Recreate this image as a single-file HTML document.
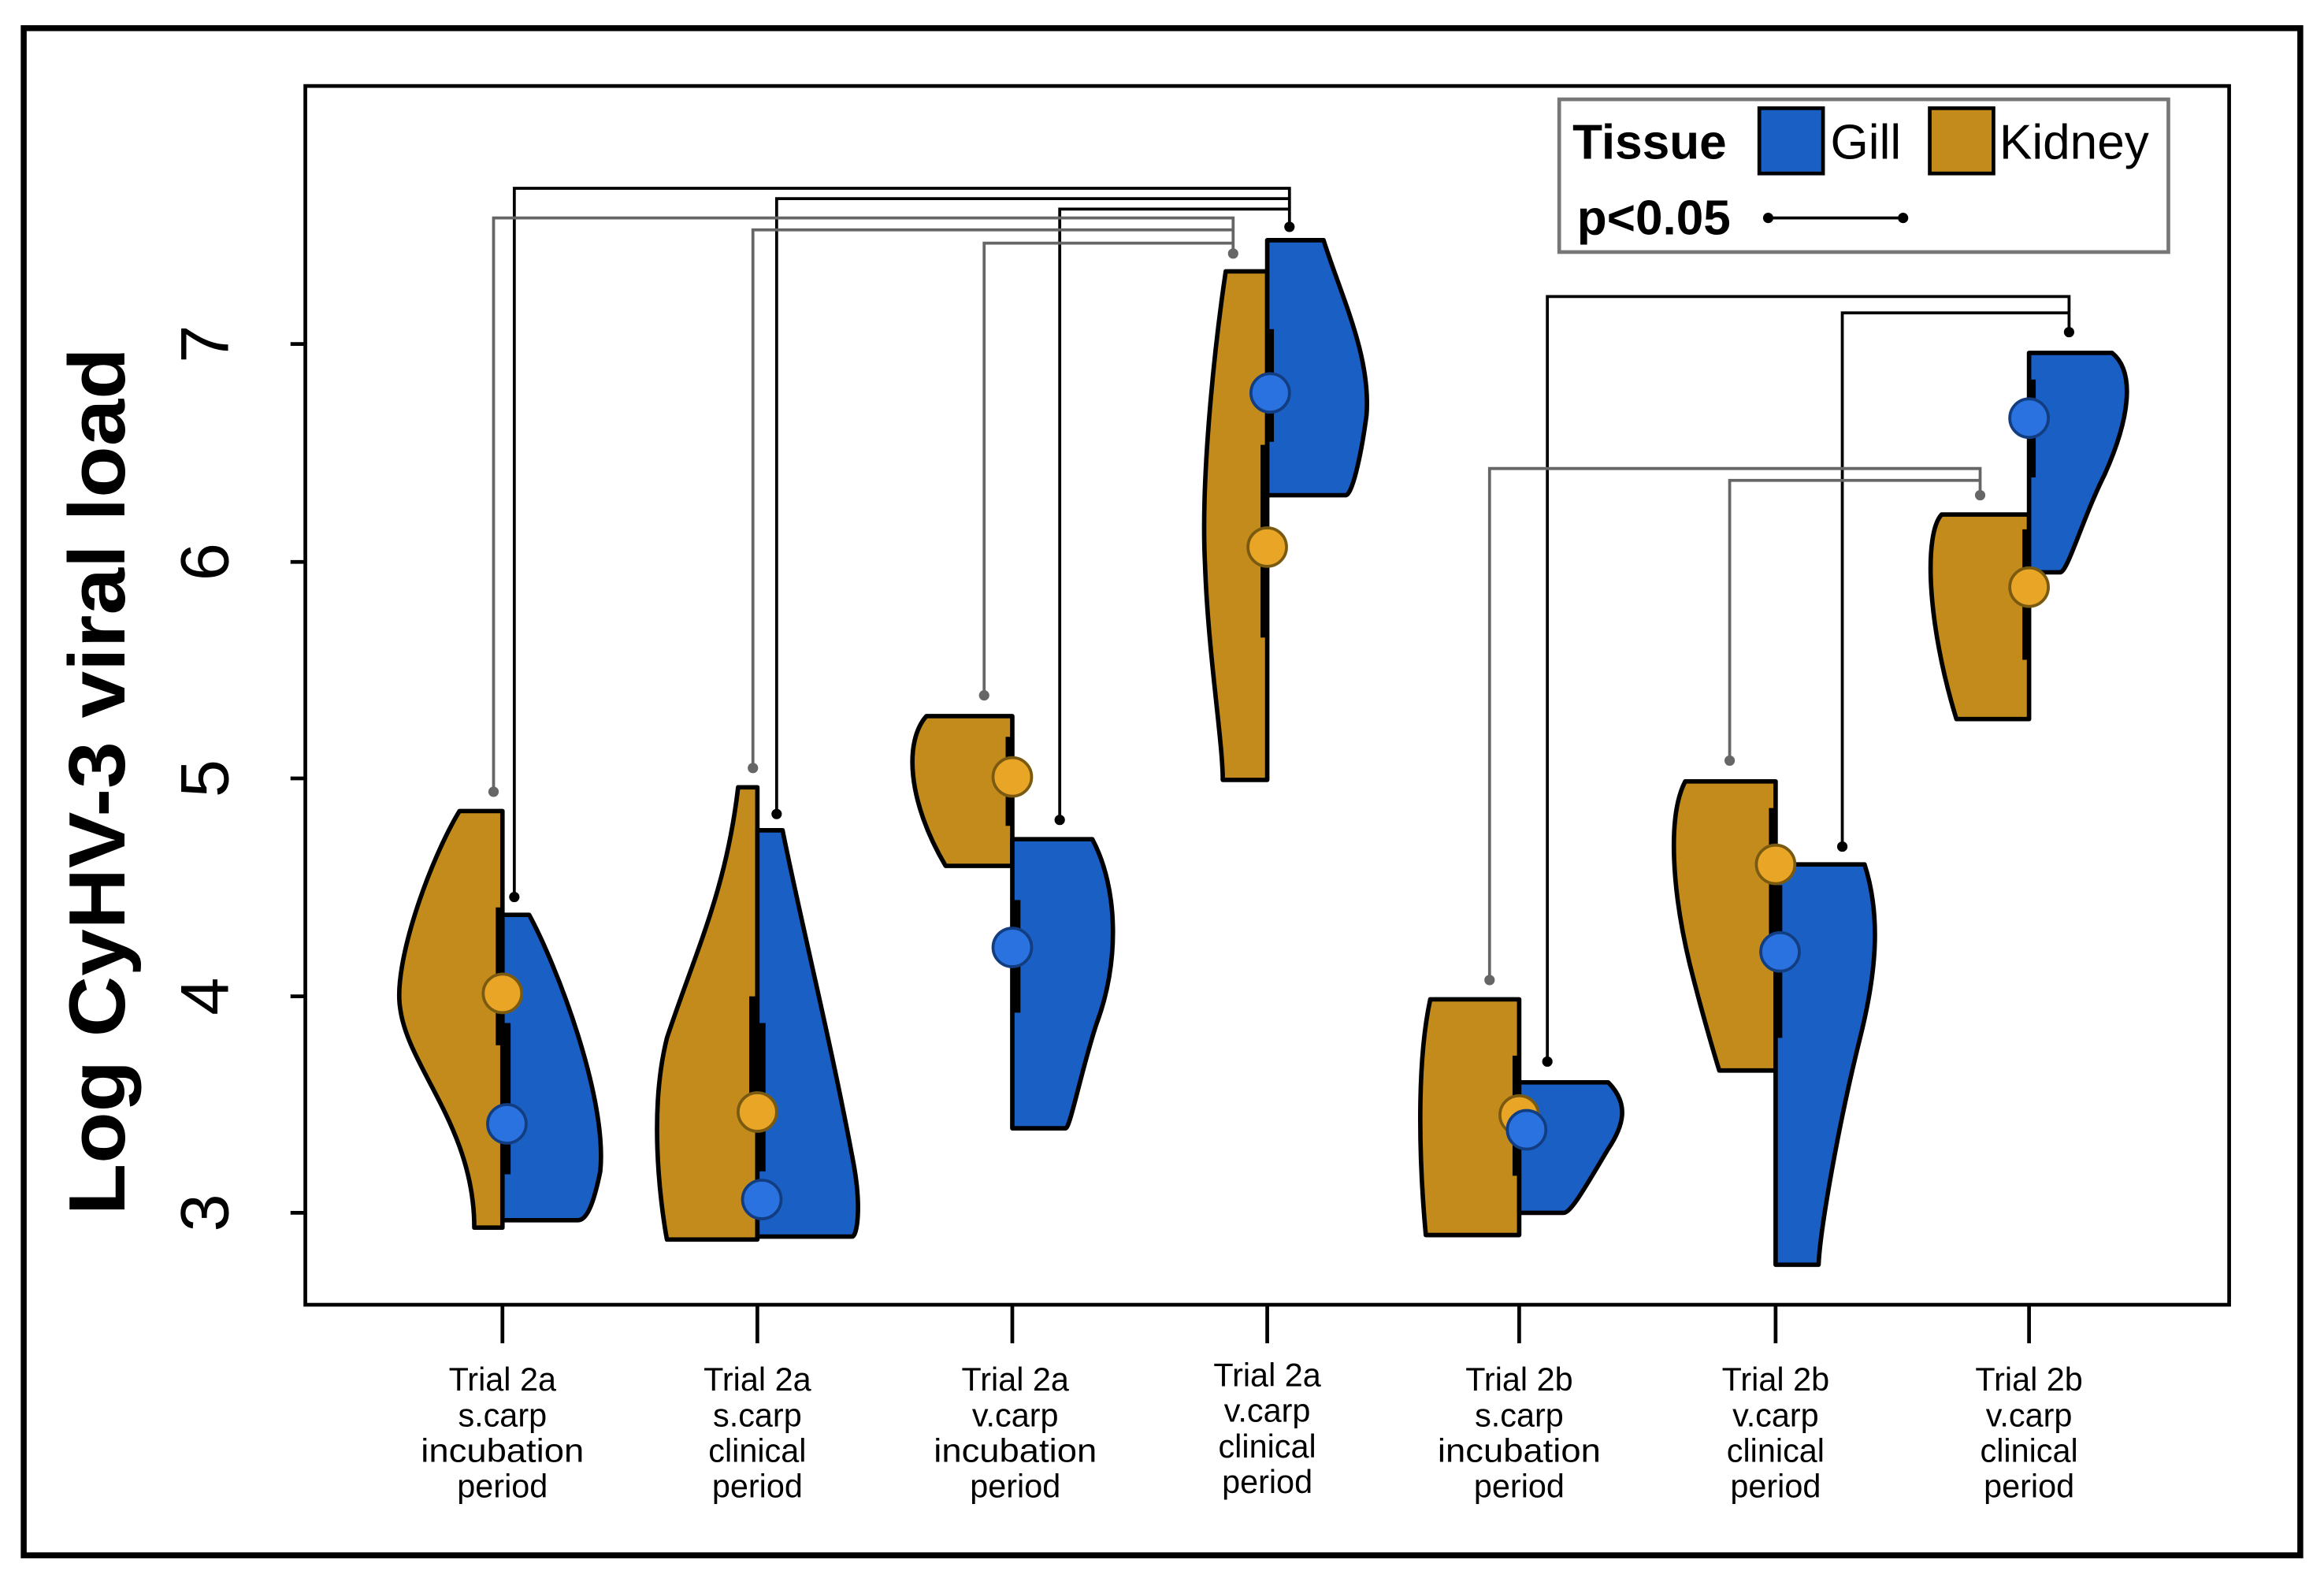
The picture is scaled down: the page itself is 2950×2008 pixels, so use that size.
<!DOCTYPE html>
<html><head><meta charset="utf-8"><style>html,body{margin:0;padding:0;background:#fff}svg{display:block}</style></head><body>
<svg width="2950" height="2008" viewBox="0 0 1568 1067" preserveAspectRatio="none" xmlns="http://www.w3.org/2000/svg" font-family="Liberation Sans, sans-serif">
<rect x="0" y="0" width="1568" height="1067" fill="#fff"/>
<rect x="16" y="19" width="1536" height="1030" fill="none" stroke="#000" stroke-width="4"/>
<rect x="206" y="58" width="1298" height="822" fill="none" stroke="#000" stroke-width="2.5"/>
<g stroke="#000" stroke-width="2.5">
<line x1="196" y1="818" x2="206" y2="818"/><line x1="196" y1="672" x2="206" y2="672"/><line x1="196" y1="525" x2="206" y2="525"/><line x1="196" y1="379" x2="206" y2="379"/><line x1="196" y1="232" x2="206" y2="232"/>
</g>
<g font-size="46" text-anchor="middle">
<text transform="translate(154,818) rotate(-90)">3</text>
<text transform="translate(154,672) rotate(-90)">4</text>
<text transform="translate(154,525) rotate(-90)">5</text>
<text transform="translate(154,379) rotate(-90)">6</text>
<text transform="translate(154,232) rotate(-90)">7</text>
</g>
<text transform="translate(84,527) rotate(-90)" font-size="54" font-weight="bold" text-anchor="middle" textLength="585" lengthAdjust="spacingAndGlyphs">Log CyHV-3 viral load</text>
<g stroke="#000" stroke-width="2.5">
<line x1="339" y1="880" x2="339" y2="906"/><line x1="511" y1="880" x2="511" y2="906"/><line x1="683" y1="880" x2="683" y2="906"/><line x1="855" y1="880" x2="855" y2="906"/><line x1="1025" y1="880" x2="1025" y2="906"/><line x1="1198" y1="880" x2="1198" y2="906"/><line x1="1369" y1="880" x2="1369" y2="906"/>
</g>
<g font-size="22" text-anchor="middle">
<text x="339" y="938">Trial 2a</text><text x="339" y="962">s.carp</text><text x="339" y="986" textLength="110" lengthAdjust="spacingAndGlyphs">incubation</text><text x="339" y="1010">period</text>
<text x="511" y="938">Trial 2a</text><text x="511" y="962">s.carp</text><text x="511" y="986">clinical</text><text x="511" y="1010">period</text>
<text x="685" y="938">Trial 2a</text><text x="685" y="962">v.carp</text><text x="685" y="986" textLength="110" lengthAdjust="spacingAndGlyphs">incubation</text><text x="685" y="1010">period</text>
<text x="855" y="935">Trial 2a</text><text x="855" y="959">v.carp</text><text x="855" y="983">clinical</text><text x="855" y="1007">period</text>
<text x="1025" y="938">Trial 2b</text><text x="1025" y="962">s.carp</text><text x="1025" y="986" textLength="110" lengthAdjust="spacingAndGlyphs">incubation</text><text x="1025" y="1010">period</text>
<text x="1198" y="938">Trial 2b</text><text x="1198" y="962">v.carp</text><text x="1198" y="986">clinical</text><text x="1198" y="1010">period</text>
<text x="1369" y="938">Trial 2b</text><text x="1369" y="962">v.carp</text><text x="1369" y="986">clinical</text><text x="1369" y="1010">period</text>
</g>
<g stroke="#000" stroke-width="3" stroke-linejoin="round">
<g fill="#C38B1C">
<path d="M339,547 L310,547 C290,580 265,650 270,680 C275,720 320,760 320,828 L339,828 Z"/>
<path d="M511,531 L498,531 C490,600 470,640 450,700 C435,760 450,836 450,836 L511,836 Z"/>
<path d="M683,483 L625,483 C610,500 612,540 638,584 L683,584Z"/>
<path d="M855,183 L827,183 C820,230 810,320 813,380 C815,440 825,500 825,526 L855,526Z"/>
<path d="M1025,674 L965,674 C955,720 958,790 962,833 L1025,833Z"/>
<path d="M1198,527 L1137,527 C1125,550 1128,600 1140,650 C1150,690 1160,722 1160,722 L1198,722Z"/>
<path d="M1369,347 L1310,347 C1298,360 1300,420 1320,485 L1369,485Z"/>
</g>
<g fill="#1A5FC4">
<path d="M339,617 L357,617 C375,650 410,740 405,790 C400,815 395,823 390,823 L339,823Z"/>
<path d="M511,560 L528,560 C540,620 560,700 575,780 C582,815 578,834 575,834 L511,834Z"/>
<path d="M683,566 L737,566 C755,600 755,650 740,690 C730,720 722,761 719,761 L683,761Z"/>
<path d="M855,162 L893,162 C905,200 925,240 922,280 C918,310 912,334 908,334 L855,334Z"/>
<path d="M1025,730 L1085,730 C1100,745 1095,760 1085,775 C1070,800 1060,818 1055,818 L1025,818Z"/>
<path d="M1198,583 L1258,583 C1270,620 1265,660 1255,700 C1240,760 1228,830 1227,853 L1198,853Z"/>
<path d="M1369,238 L1425,238 C1440,250 1438,280 1420,320 C1405,350 1395,386 1390,386 L1369,386Z"/>
</g>
</g>
<g stroke="#000" stroke-width="5">
<line x1="337" y1="612" x2="337" y2="705"/><line x1="342" y1="690" x2="342" y2="792"/>
<line x1="508" y1="672" x2="508" y2="760"/><line x1="514" y1="690" x2="514" y2="790"/>
<line x1="681" y1="497" x2="681" y2="557"/><line x1="686" y1="607" x2="686" y2="683"/>
<line x1="853" y1="300" x2="853" y2="430"/><line x1="857" y1="222" x2="857" y2="298"/>
<line x1="1023" y1="712" x2="1023" y2="793"/>
<line x1="1196" y1="545" x2="1196" y2="640"/><line x1="1200" y1="597" x2="1200" y2="700"/>
<line x1="1367" y1="357" x2="1367" y2="445"/><line x1="1371" y1="256" x2="1371" y2="322"/>
</g>
<g stroke="#7a5a10" stroke-width="2" fill="#E8A526">
<circle cx="339" cy="670" r="13"/><circle cx="511" cy="750" r="13"/><circle cx="683" cy="524" r="13"/><circle cx="855" cy="369" r="13"/><circle cx="1025" cy="752" r="13"/><circle cx="1198" cy="583" r="13"/><circle cx="1369" cy="396" r="13"/>
</g>
<g stroke="#123d80" stroke-width="2" fill="#2A72E0">
<circle cx="342" cy="758" r="13"/><circle cx="514" cy="809" r="13"/><circle cx="683" cy="639" r="13"/><circle cx="857" cy="265" r="13"/><circle cx="1030" cy="762" r="13"/><circle cx="1201" cy="642" r="13"/><circle cx="1369" cy="282" r="13"/>
</g>
<g fill="none" stroke-width="2">
<g stroke="#000">
<path d="M347,605 V127 H870 V153"/><path d="M524,549 V134 H870"/><path d="M715,553 V141 H870"/>
<path d="M1044,716 V200 H1396 V224"/><path d="M1243,571 V211 H1396"/>
</g>
<g stroke="#666">
<path d="M333,534 V147 H832 V171"/><path d="M508,518 V155 H832"/><path d="M664,469 V164 H832"/>
<path d="M1005,661 V316 H1336 V334"/><path d="M1167,513 V324 H1336"/>
</g>
</g>
<g fill="#000">
<circle cx="347" cy="605" r="3.5"/><circle cx="524" cy="549" r="3.5"/><circle cx="715" cy="553" r="3.5"/><circle cx="870" cy="153" r="3.5"/>
<circle cx="1044" cy="716" r="3.5"/><circle cx="1243" cy="571" r="3.5"/><circle cx="1396" cy="224" r="3.5"/>
</g>
<g fill="#666">
<circle cx="333" cy="534" r="3.5"/><circle cx="508" cy="518" r="3.5"/><circle cx="664" cy="469" r="3.5"/><circle cx="832" cy="171" r="3.5"/>
<circle cx="1005" cy="661" r="3.5"/><circle cx="1167" cy="513" r="3.5"/><circle cx="1336" cy="334" r="3.5"/>
</g>
<rect x="1052" y="67" width="411" height="103" fill="#fff" stroke="#777" stroke-width="2.5"/>
<text x="1061" y="107" font-size="33" font-weight="bold">Tissue</text>
<rect x="1187" y="73" width="43" height="44" fill="#1A5FC4" stroke="#000" stroke-width="2.5"/>
<text x="1235" y="107" font-size="33">Gill</text>
<rect x="1302" y="73" width="43" height="44" fill="#C38B1C" stroke="#000" stroke-width="2.5"/>
<text x="1349" y="107" font-size="33">Kidney</text>
<text x="1064" y="158" font-size="33" font-weight="bold">p&lt;0.05</text>
<line x1="1193" y1="147" x2="1284" y2="147" stroke="#000" stroke-width="2"/>
<circle cx="1193" cy="147" r="3.5"/><circle cx="1284" cy="147" r="3.5"/>
</svg>
</body></html>
